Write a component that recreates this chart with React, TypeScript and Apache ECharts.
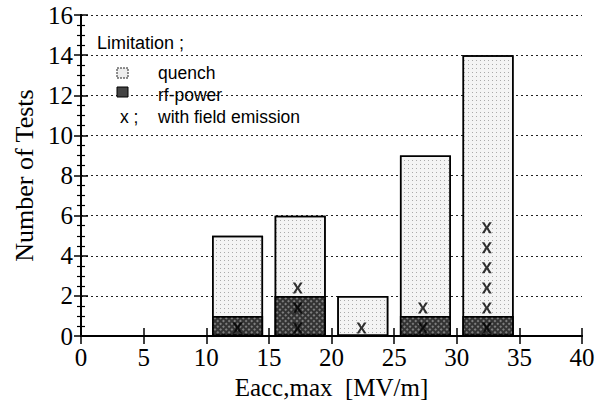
import React, { useEffect, useRef } from "react";
import * as echarts from "echarts";

// Histogram bins (centres, MV/m) and counts
const binCenters = [12.5, 17.5, 22.5, 27.5, 32.5];
const totalCounts = [5, 6, 2, 9, 14]; // all tests in the bin (quench on top of rf-power)
const rfPowerCounts = [1, 2, 0, 1, 1]; // tests limited by rf-power

// Tests with field emission (x markers)
const feX = [12.5, 17.3, 17.3, 17.3, 22.4, 27.3, 27.3, 32.4, 32.4, 32.4, 32.4, 32.4, 32.4];
const feY = [0.4, 0.4, 1.4, 2.4, 0.4, 0.4, 1.4, 0.4, 1.4, 2.4, 3.4, 4.4, 5.4];

const xMin = 0;
const xMax = 40;
const xStep = 5;
const yMin = 0;
const yMax = 16;
const yStep = 2;

const xTitle = "Eacc,max  [MV/m]";
const yTitle = "Number of Tests";
const legendTitle = "Limitation ;";
const legendQuench = "quench";
const legendRf = "rf-power";
const legendFeMark = "x ;";
const legendFe = "with field emission";

const SERIF = '"Liberation Serif", "Times New Roman", serif';
const SANS = '"Liberation Sans", Arial, sans-serif';

const X_SYMBOL =
  "path://M0,0 L2.6,0 L5,3.6 L7.4,0 L10,0 L6.4,5 L10,10 L7.4,10 L5,6.4 L2.6,10 L0,10 L3.6,5 Z";

export default function App() {
  const ref = useRef<HTMLDivElement>(null);

  useEffect(() => {
    if (!ref.current) return;
    const chart = echarts.init(ref.current, undefined, { renderer: "svg" });

    const axisLine = { show: true, lineStyle: { color: "#000", width: 2 } };
    const tick = { show: true, inside: true, length: 8, lineStyle: { color: "#000", width: 1.5 } };
    const yTick = { show: true, inside: true, length: 7, lineStyle: { color: "#000", width: 1.5 } };
    const yMinor = { show: true, splitNumber: 4, length: 4, lineStyle: { color: "#000", width: 1.2 } };

    const option: any = {
      animation: false,
      backgroundColor: "#fff",
      grid: { left: 81, right: 18, top: 15, bottom: 59 },
      xAxis: [
        {
          type: "value",
          position: "bottom",
          min: xMin,
          max: xMax,
          interval: xStep,
          axisLine,
          axisTick: tick,
          axisLabel: { color: "#000", fontFamily: SERIF, fontSize: 25, margin: 9 },
          splitLine: { show: false },
          name: xTitle,
          nameLocation: "middle",
          nameGap: 33,
          nameTextStyle: { color: "#000", fontFamily: SERIF, fontSize: 25 },
        },
        {
          type: "value",
          position: "top",
          min: xMin,
          max: xMax,
          interval: xStep,
          axisLine,
          axisTick: tick,
          axisLabel: { show: false },
          splitLine: { show: false },
        },
      ],
      yAxis: [
        {
          type: "value",
          position: "left",
          min: yMin,
          max: yMax,
          interval: yStep,
          axisLine,
          axisTick: yTick,
          minorTick: yMinor,
          axisLabel: { color: "#000", fontFamily: SERIF, fontSize: 25, margin: 8 },
          splitLine: { show: true, lineStyle: { color: "#222", width: 1, type: [2, 3] } },
          name: yTitle,
          nameLocation: "middle",
          nameGap: 43,
          nameTextStyle: { color: "#000", fontFamily: SERIF, fontSize: 26 },
        },
        {
          type: "value",
          position: "right",
          min: yMin,
          max: yMax,
          interval: yStep,
          axisLine,
          axisTick: yTick,
          minorTick: yMinor,
          axisLabel: { show: false },
          splitLine: { show: false },
        },
      ],
      series: [
        {
          name: legendQuench,
          type: "bar",
          barWidth: 51,
          barGap: "-100%",
          data: binCenters.map((c, i) => [c, totalCounts[i]]),
          itemStyle: {
            color: "#f4f4f4",
            borderColor: "#000",
            borderWidth: 1.5,
            decal: {
              symbol: "rect",
              symbolSize: 1,
              color: "rgba(0,0,0,0.3)",
              dashArrayX: [1, 3],
              dashArrayY: [1, 3],
            },
          },
          z: 2,
        },
        {
          name: legendRf,
          type: "bar",
          barWidth: 51,
          barGap: "-100%",
          data: binCenters.map((c, i) => [c, rfPowerCounts[i]]),
          itemStyle: {
            color: "#333",
            borderColor: "#000",
            borderWidth: 1.5,
            decal: {
              symbol: "rect",
              symbolSize: 0.7,
              color: "rgba(255,255,255,0.7)",
              dashArrayX: [2, 2],
              dashArrayY: [2, 2],
              rotation: Math.PI / 4,
            },
          },
          z: 3,
        },
        {
          name: legendFe,
          type: "scatter",
          symbol: X_SYMBOL,
          symbolSize: [10, 11],
          data: feX.map((x, i) => [x, feY[i]]),
          itemStyle: { color: "#000" },
          z: 5,
        },
      ],
      graphic: [
        {
          type: "text",
          x: 97,
          y: 43,
          style: { text: legendTitle, fontFamily: SANS, fontSize: 18, fill: "#000", verticalAlign: "middle" },
          z: 10,
        },
        {
          type: "rect",
          shape: { x: 117, y: 68, width: 11, height: 10 },
          style: { fill: "#eeeeee", stroke: "#222", lineWidth: 1, lineDash: [2, 1] },
          z: 10,
        },
        {
          type: "rect",
          shape: { x: 117, y: 87, width: 11, height: 10 },
          style: { fill: "#444", stroke: "#000", lineWidth: 1 },
          z: 10,
        },
        {
          type: "text",
          x: 158,
          y: 73,
          style: { text: legendQuench, fontFamily: SANS, fontSize: 17.5, fill: "#000", verticalAlign: "middle" },
          z: 10,
        },
        {
          type: "text",
          x: 158,
          y: 95,
          style: { text: legendRf, fontFamily: SANS, fontSize: 17.5, fill: "#000", verticalAlign: "middle" },
          z: 10,
        },
        {
          type: "text",
          x: 120,
          y: 117,
          style: { text: legendFeMark, fontFamily: SANS, fontSize: 17.5, fill: "#000", verticalAlign: "middle" },
          z: 10,
        },
        {
          type: "text",
          x: 158,
          y: 117,
          style: { text: legendFe, fontFamily: SANS, fontSize: 17.5, fill: "#000", verticalAlign: "middle" },
          z: 10,
        },
      ],
    };

    chart.setOption(option);
    return () => chart.dispose();
  }, []);

  return (
    <div
      ref={ref}
      style={{ position: "absolute", left: 0, top: 0, width: 600, height: 405, background: "#fff" }}
    />
  );
}
